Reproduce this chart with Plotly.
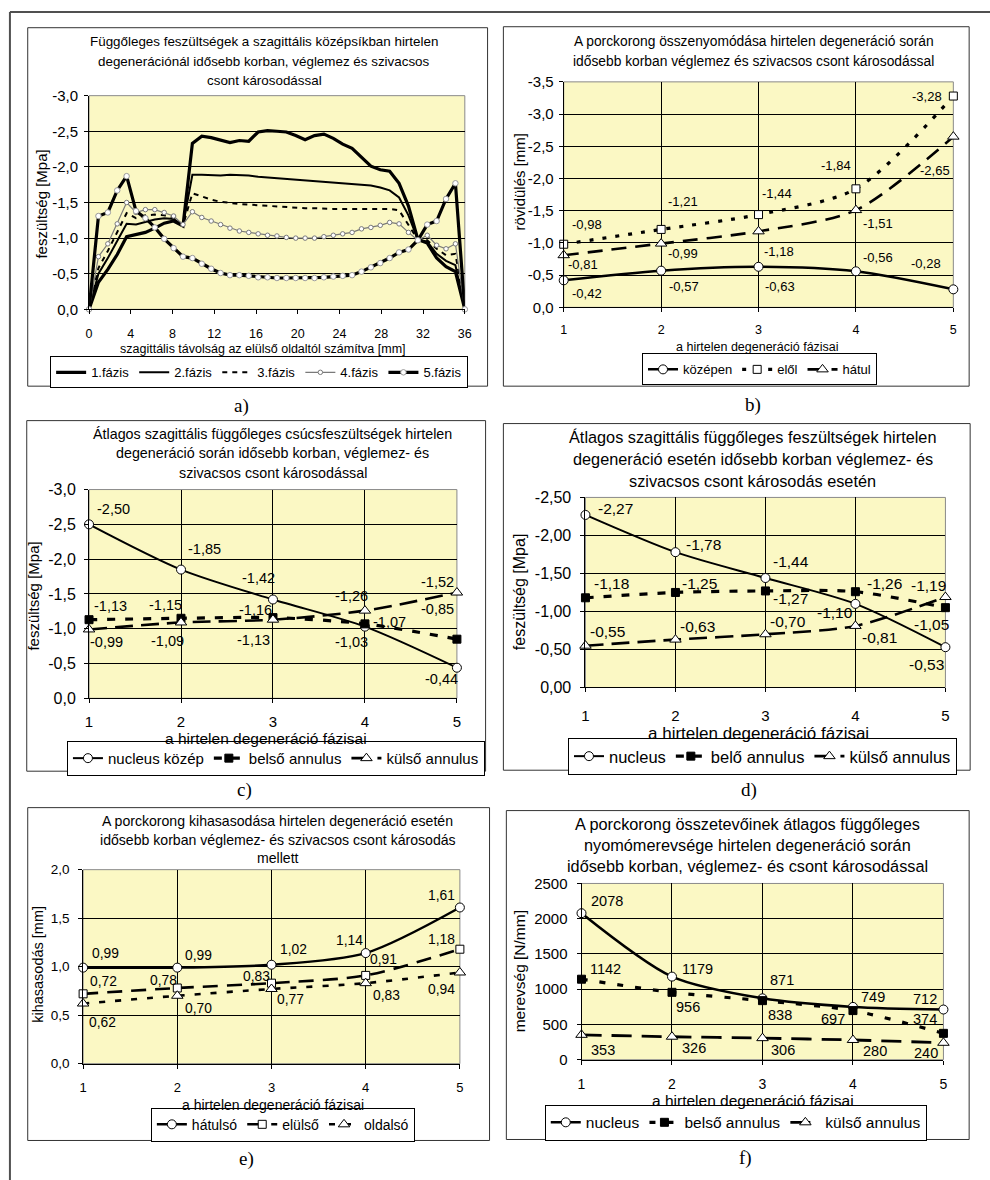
import plotly.graph_objects as go

W, H = 990, 1180
SANS = "Liberation Sans, Arial, sans-serif"
SERIF = "Liberation Serif, Times New Roman, serif"
YELLOW = "#FBF8C4"

# ---------------- a) vertical stress along the sagittal mid-plane ----------------
dist_mm = [0, 0.9, 1.8, 2.7, 3.6, 4.5, 5.4, 6.3, 7.2, 8.1, 9, 9.9, 10.8, 11.7, 12.6,
           13.5, 14.4, 15.3, 16.2, 17.1, 18, 18.9, 19.8, 20.7, 21.6, 22.5, 23.4, 24.3,
           25.2, 26.1, 27, 27.9, 28.8, 29.7, 30.6, 31.5, 32.4, 33.3, 34.2, 35.1, 36]
phase1 = [0, -0.38, -0.56, -0.77, -1.02, -1.05, -1.08, -1.14, -1.21, -1.24, -1.17,
          -2.33, -2.43, -2.41, -2.37, -2.34, -2.37, -2.36, -2.49, -2.51, -2.50, -2.49,
          -2.44, -2.38, -2.44, -2.46, -2.40, -2.32, -2.26, -2.14, -2.01, -1.96, -1.94,
          -1.77, -1.45, -0.98, -0.93, -0.72, -0.60, -0.53, 0]
phase2 = [0, -0.50, -0.72, -0.96, -1.20, -1.19, -1.23, -1.26, -1.28, -1.27, -1.18,
          -1.89, -1.89, -1.88, -1.88, -1.89, -1.89, -1.88, -1.86, -1.85, -1.84, -1.83,
          -1.82, -1.81, -1.80, -1.79, -1.78, -1.77, -1.76, -1.75, -1.74, -1.71, -1.67,
          -1.57, -1.32, -0.98, -0.95, -0.78, -0.68, -0.62, 0]
phase3 = [0, -0.58, -0.82, -1.08, -1.35, -1.28, -1.32, -1.33, -1.32, -1.29, -1.18,
          -1.63, -1.58, -1.54, -1.51, -1.49, -1.48, -1.47, -1.46, -1.45, -1.44, -1.43,
          -1.43, -1.42, -1.42, -1.41, -1.41, -1.41, -1.41, -1.41, -1.41, -1.41, -1.41,
          -1.39, -1.18, -0.98, -0.97, -0.85, -0.76, -0.78, 0]
phase4 = [0, -0.74, -0.92, -1.20, -1.50, -1.36, -1.40, -1.40, -1.36, -1.31, -1.19,
          -1.37, -1.29, -1.24, -1.19, -1.14, -1.10, -1.08, -1.06, -1.04, -1.03, -1.01,
          -1.00, -1.00, -1.00, -1.02, -1.04, -1.06, -1.08, -1.13, -1.15, -1.18, -1.22,
          -1.20, -1.08, -0.97, -1.04, -0.90, -0.85, -0.92, 0]
phase5 = [0, -1.31, -1.36, -1.67, -1.87, -1.38, -1.28, -1.15, -0.99, -0.86, -0.74,
          -0.72, -0.64, -0.57, -0.51, -0.48, -0.48, -0.47, -0.45, -0.45, -0.44, -0.44,
          -0.44, -0.44, -0.44, -0.45, -0.46, -0.47, -0.48, -0.53, -0.59, -0.65, -0.72,
          -0.80, -0.84, -0.97, -1.19, -1.24, -1.55, -1.77, 0]
a_xticks = [0, 4, 8, 12, 16, 20, 24, 28, 32, 36]
a_yticks = [0, -0.5, -1.0, -1.5, -2.0, -2.5, -3.0]

# ---------------- b) - f) values per degeneration phase ----------------
phases = [1, 2, 3, 4, 5]

b_kozepen = [-0.42, -0.57, -0.63, -0.56, -0.28]
b_elol = [-0.98, -1.21, -1.44, -1.84, -3.28]
b_hatul = [-0.81, -0.99, -1.18, -1.51, -2.65]
b_yticks = [0, -0.5, -1.0, -1.5, -2.0, -2.5, -3.0, -3.5]

c_nucleus = [-2.50, -1.85, -1.42, -1.03, -0.44]
c_belso = [-1.13, -1.15, -1.16, -1.07, -0.85]
c_kulso = [-0.99, -1.09, -1.13, -1.26, -1.52]
c_yticks = [0, -0.5, -1.0, -1.5, -2.0, -2.5, -3.0]

d_nucleus = [-2.27, -1.78, -1.44, -1.10, -0.53]
d_belo = [-1.18, -1.25, -1.27, -1.26, -1.05]
d_kulso = [-0.55, -0.63, -0.70, -0.81, -1.19]
d_yticks = [0, -0.5, -1.0, -1.5, -2.0, -2.5]

e_hatulso = [0.99, 0.99, 1.02, 1.14, 1.61]
e_elulso = [0.72, 0.78, 0.83, 0.91, 1.18]
e_oldalso = [0.62, 0.70, 0.77, 0.83, 0.94]
e_yticks = [0, 0.5, 1.0, 1.5, 2.0]

f_nucleus = [2078, 1179, 871, 749, 712]
f_belso = [1142, 956, 838, 697, 374]
f_kulso = [353, 326, 306, 280, 240]
f_yticks = [0, 500, 1000, 1500, 2000, 2500]


def fmt(v, dec):
    return f"{v:.{dec}f}".replace(".", ",")


def pxx(x):
    return x / W


def pxy(y):
    return 1 - y / H


fig = go.Figure()
shapes = []
annotations = []

# outer frame (top and left edges)
shapes.append(dict(type="line", xref="paper", yref="paper", x0=pxx(6), x1=pxx(1000),
                   y0=pxy(3), y1=pxy(3), line=dict(color="#505050", width=2), layer="below"))
shapes.append(dict(type="line", xref="paper", yref="paper", x0=pxx(6), x1=pxx(6),
                   y0=pxy(3), y1=pxy(1190), line=dict(color="#505050", width=2), layer="below"))

# panel geometry: plot area (l, t, r, b), chart box (l, t, r, b)
panels = {
    1: dict(plot=(86, 88, 466, 305), box=(24, 19, 489, 383)),
    2: dict(plot=(566, 74, 960, 303), box=(505, 18, 976, 383)),
    3: dict(plot=(86, 488, 458, 700), box=(23, 418, 487, 774)),
    4: dict(plot=(588, 496, 952, 689), box=(505, 421, 977, 773)),
    5: dict(plot=(80, 874, 461, 1071), box=(24, 811, 491, 1149)),
    6: dict(plot=(584, 888, 950, 1067), box=(508, 814, 976, 1148)),
}


def refs(n):
    return ("x", "y") if n == 1 else (f"x{n}", f"y{n}")


def axnames(n):
    return ("xaxis", "yaxis") if n == 1 else (f"xaxis{n}", f"yaxis{n}")


layout_axes = {}


def setup_panel(n, xrange, xticks, xgrid, yrange, yticks, ydec,
                xsize, ysize, xstand, ystand):
    l, t, r, b = panels[n]["plot"]
    bl, bt, br, bb = panels[n]["box"]
    shapes.append(dict(type="rect", xref="paper", yref="paper", x0=pxx(bl), x1=pxx(br),
                       y0=pxy(bb), y1=pxy(bt), fillcolor="white",
                       line=dict(color="#333333", width=1), layer="below"))
    shapes.append(dict(type="rect", xref="paper", yref="paper", x0=pxx(l), x1=pxx(r),
                       y0=pxy(b), y1=pxy(t), fillcolor=YELLOW,
                       line=dict(color="#8a8a8a", width=1), layer="below"))
    xa, ya = axnames(n)
    xr, yr = refs(n)
    layout_axes[xa] = dict(domain=[pxx(l), pxx(r)], anchor=yr, range=xrange,
                           tickvals=xticks, ticktext=[str(v) for v in xticks],
                           showgrid=xgrid, gridcolor="black", gridwidth=1,
                           showline=True, linecolor="black", linewidth=1,
                           ticks="outside", ticklen=4, tickcolor="black",
                           ticklabelstandoff=xstand, zeroline=False,
                           tickfont=dict(family=SANS, size=xsize, color="black"))
    layout_axes[ya] = dict(domain=[pxy(b), pxy(t)], anchor=xr, range=yrange,
                           tickvals=yticks, ticktext=[fmt(v, ydec) for v in yticks],
                           showgrid=True, gridcolor="black", gridwidth=1,
                           showline=True, linecolor="black", linewidth=1,
                           ticks="outside", ticklen=4, tickcolor="black",
                           ticklabelstandoff=ystand, zeroline=False,
                           tickfont=dict(family=SANS, size=ysize, color="black"))


def text(x, y, s, size, family=SANS, angle=0):
    annotations.append(dict(x=pxx(x), y=pxy(y), xref="paper", yref="paper", text=s,
                            showarrow=False, textangle=angle, xanchor="center",
                            yanchor="middle", font=dict(family=family, size=size, color="black")))


def title(cx, ys, lines, size):
    for y, s in zip(ys, lines):
        text(cx, y, s, size)


def point_labels(n, values, offsets, dec, size):
    xr, yr = refs(n)
    for x, v, (dx, dy) in zip(phases, values, offsets):
        annotations.append(dict(x=x, y=v, xref=xr, yref=yr, text=fmt(v, dec), showarrow=False,
                                xshift=dx, yshift=-dy, xanchor="center", yanchor="middle",
                                font=dict(family=SANS, size=size, color="black")))


def cat_series(n, y, name, legend, dash, width, symbol, fill, msize):
    xr, yr = refs(n)
    fig.add_trace(go.Scatter(
        x=phases, y=y, name=name, mode="lines+markers", xaxis=xr, yaxis=yr, legend=legend,
        line=dict(color="black", width=width, dash=dash, shape="spline", smoothing=0.8),
        marker=dict(symbol=symbol, size=msize, color=fill, line=dict(color="black", width=1)),
        cliponaxis=False))


def legend_box(cx, cy, size):
    return dict(x=pxx(cx), y=pxy(cy), xanchor="center", yanchor="middle", orientation="h",
                bgcolor="white", bordercolor="black", borderwidth=1,
                font=dict(family=SANS, size=size, color="black"),
                itemsizing="trace", tracegroupgap=0, itemwidth=30)


# ---------------- a) ----------------
setup_panel(1, [0, 36], a_xticks, False, [0, -3.0], a_yticks, 1, 12.5, 15, 9, 3)
a_styles = [
    ("1.fázis", phase1, dict(color="black", width=3.2), None),
    ("2.fázis", phase2, dict(color="black", width=2), None),
    ("3.fázis", phase3, dict(color="black", width=2, dash="5px,5px"), None),
    ("4.fázis", phase4, dict(color="#7a7a7a", width=1.2),
     dict(symbol="circle", size=4.5, color="white", line=dict(color="#7a7a7a", width=1))),
    ("5.fázis", phase5, dict(color="black", width=3.2),
     dict(symbol="circle", size=5.5, color="white", line=dict(color="#9a9a9a", width=1))),
]
for name, vals, line, marker in a_styles:
    fig.add_trace(go.Scatter(x=dist_mm, y=vals, name=name, xaxis="x", yaxis="y",
                             mode="lines+markers" if marker else "lines",
                             line=line, marker=marker, legend="legend", cliponaxis=False))
title(263, [33, 53, 73], ["Függőleges feszültségek a szagittális középsíkban hirtelen",
                          "degenerációnál idősebb korban, véglemez és szivacsos",
                          "csont károsodással"], 13.4)
text(38, 198, "feszültség [Mpa]", 15, angle=-90)
text(262, 345, "szagittális távolság az elülső oldaltól számítva [mm]", 12.5)
text(240, 403, "a)", 19, SERIF)

# ---------------- b) ----------------
setup_panel(2, [1, 5], phases, True, [0, -3.5], b_yticks, 1, 12.5, 15, 7, 2)
cat_series(2, b_kozepen, "középen", "legend2", "solid", 2.5, "circle", "white", 9)
cat_series(2, b_elol, "elől", "legend2", "4px,9px", 3.2, "square", "white", 8)
cat_series(2, b_hatul, "hátul", "legend2", "15px,9px", 2.6, "triangle-up", "white", 10)
point_labels(2, b_kozepen, [(23, 13), (23, 16), (21, 20), (22, -14), (-27, -26)], 2, 13)
point_labels(2, b_elol, [(23, -20), (22, -28), (18, -21), (-20, -23), (-26, 0)], 2, 13)
point_labels(2, b_hatul, [(19, 9), (22, 10), (20, 20), (22, 13), (-18, 34)], 2, 13)
title(758, [33, 53], ["A porckorong összenyomódása hirtelen degeneráció során",
                      "idősebb korban véglemez és szivacsos csont károsodással"], 13.8)
text(521, 175, "rövidülés [mm]", 15, angle=-90)
text(762, 343, "a hirtelen degeneráció fázisai", 12.5)
text(757, 402, "b)", 19, SERIF)

# ---------------- c) ----------------
setup_panel(3, [1, 5], phases, True, [0, -3.0], c_yticks, 1, 15, 16, 6, 5)
cat_series(3, c_nucleus, "nucleus közép", "legend3", "solid", 2, "circle", "white", 9)
cat_series(3, c_belso, "belső annulus", "legend3", "8px,10px", 3.2, "square", "black", 8)
cat_series(3, c_kulso, "külső annulus", "legend3", "18px,8px", 2.6, "triangle-up", "white", 10)
point_labels(3, c_nucleus, [(24, -15), (23, -21), (-14, -22), (-13, 15), (-15, 11)], 2, 14.5)
point_labels(3, c_belso, [(21, -14), (-16, -13), (-17, -8), (25, -2), (-19, -30)], 2, 14.5)
point_labels(3, c_kulso, [(17, 13), (-14, 19), (-19, 20), (-13, -15), (-19, -11)], 2, 14.5)
title(272, [432, 451, 471], ["Átlagos szagittális függőleges csúcsfeszültségek hirtelen",
                             "degeneráció során idősebb korban, véglemez- és",
                             "szivacsos csont károsodással"], 14.3)
text(30, 596, "feszültség [Mpa]", 15, angle=-90)
text(265, 741, "a hirtelen degeneráció fázisai", 15.5)
text(243, 793, "c)", 19, SERIF)

# ---------------- d) ----------------
setup_panel(4, [1, 5], phases, True, [0, -2.5], d_yticks, 2, 15, 16, 11, 6)
cat_series(4, d_nucleus, "nucleus", "legend4", "solid", 2, "circle", "white", 9)
cat_series(4, d_belo, "belő annulus", "legend4", "8px,10px", 3.2, "square", "black", 8)
cat_series(4, d_kulso, "külső annulus", "legend4", "18px,8px", 2.6, "triangle-up", "white", 10)
point_labels(4, d_nucleus, [(30, -6), (28, -8), (26, -17), (-20, 9), (-19, 17)], 2, 15.5)
point_labels(4, d_belo, [(26, -14), (24, -9), (25, 8), (29, -8), (-14, 17)], 2, 15.5)
point_labels(4, d_kulso, [(22, -14), (22, -13), (23, -13), (24, 12), (-17, -12)], 2, 15.5)
title(757, [435, 457, 479], ["Átlagos szagittális függőleges feszültségek hirtelen",
                             "degeneráció esetén idősebb korban véglemez- és",
                             "szivacsos csont károsodás esetén"], 16.3)
text(522, 592, "feszültség [Mpa]", 16, angle=-90)
text(763, 736, "a hirtelen degeneráció fázisai", 17)
text(753, 793, "d)", 19, SERIF)

# ---------------- e) ----------------
setup_panel(5, [1, 5], phases, True, [0, 2.0], e_yticks, 1, 13, 13.5, 8, 6)
cat_series(5, e_hatulso, "hátulsó", "legend5", "solid", 2.5, "circle", "white", 9)
cat_series(5, e_elulso, "elülső", "legend5", "15px,9px", 2.6, "square", "white", 8)
cat_series(5, e_oldalso, "oldalsó", "legend5", "6px,10px", 2.6, "triangle-up", "white", 10)
point_labels(5, e_hatulso, [(22, -14), (21, -12), (22, -15), (-16, -13), (-18, -12)], 2, 13.8)
point_labels(5, e_elulso, [(20, -12), (-14, -8), (-15, -7), (18, -16), (-18, -10)], 2, 13.8)
point_labels(5, e_oldalso, [(19, 19), (21, 13), (19, 11), (21, 12), (-18, 17)], 2, 13.8)
title(277, [825, 844, 862], ["A porckorong kihasasodása hirtelen degeneráció esetén",
                             "idősebb korban véglemez- és szivacsos csont károsodás",
                             "mellett"], 14.1)
text(35, 970, "kihasasodás [mm]", 14.5, angle=-90)
text(272, 1113, "a hirtelen degeneráció fázisai", 14)
text(245, 1168, "e)", 19, SERIF)

# ---------------- f) ----------------
setup_panel(6, [1, 5], phases, True, [0, 2500], f_yticks, 0, 14, 15, 7, 6)
cat_series(6, f_nucleus, "nucleus", "legend6", "solid", 2.5, "circle", "white", 9)
cat_series(6, f_belso, "belső annulus", "legend6", "6px,12px", 3.2, "square", "black", 8)
cat_series(6, f_kulso, "külső annulus", "legend6", "20px,10px", 2.8, "triangle-up", "white", 10)
point_labels(6, f_nucleus, [(25, -12), (26, -8), (20, -18), (20, -10), (-18, -11)], 0, 14.5)
point_labels(6, f_belso, [(24, -10), (16, 15), (18, 14), (-20, 8), (-18, -14)], 0, 14.5)
point_labels(6, f_kulso, [(21, 15), (22, 11), (21, 12), (22, 11), (-17, 10)], 0, 14.5)
title(752, [828, 849, 870], ["A porckorong összetevőinek átlagos függőleges",
                             "nyomómerevsége hirtelen degeneráció során",
                             "idősebb korban, véglemez- és csont károsodással"], 16.3)
text(521, 977, "merevség [N/mm]", 15.5, angle=-90)
text(757, 1108, "a hirtelen degeneráció fázisai", 15.5)
text(750, 1167, "f)", 19, SERIF)

fig.update_layout(
    width=W, height=H, autosize=False,
    margin=dict(l=0, r=0, t=0, b=0),
    paper_bgcolor="white", plot_bgcolor="rgba(0,0,0,0)",
    font=dict(family=SANS, size=12, color="black"),
    showlegend=True,
    shapes=shapes, annotations=annotations,
    legend=legend_box(258, 369, 13),
    legend2=legend_box(764, 366, 13),
    legend3=legend_box(275, 761, 15),
    legend4=legend_box(767, 759, 16.5),
    legend5=legend_box(282, 1133, 14),
    legend6=legend_box(740, 1131, 15.5),
    **layout_axes,
)

fig.write_html("out.html")
